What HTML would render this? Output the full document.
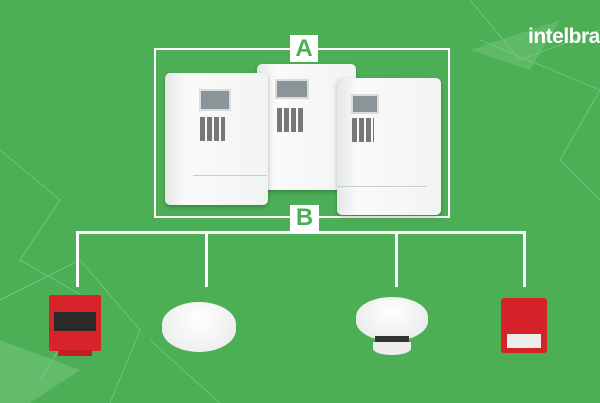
<!DOCTYPE html>
<html><head><style>
body{margin:0;width:600px;height:403px;overflow:hidden;background:#4caf55;font-family:"Liberation Sans",sans-serif;position:relative}
.a{position:absolute}
.pan{position:absolute;background:linear-gradient(90deg,#e4e6e6,#fafafa 20%,#f2f3f3);border-radius:5px;box-shadow:0 2px 4px rgba(0,0,0,.25)}
.scr{position:absolute;background:#8a9499;border:2px solid #d8dcdc}
.keys{position:absolute;background:repeating-linear-gradient(90deg,#777 0 5px,transparent 5px 7px);}
.w{position:absolute;background:#fff}
</style></head><body>
<svg class="a" style="left:0;top:0" width="600" height="403">
<g stroke="#8fd095" stroke-width="0.8" fill="none" opacity=".7">
<path d="M0 150 L60 200 L20 260 L90 300 L40 380"/><path d="M0 300 L80 260 L140 330 L110 403"/>
<path d="M470 0 L520 60 L600 30"/><path d="M480 40 L600 90 L560 160 L600 200"/><path d="M150 340 L220 403"/>
</g>
<polygon points="0,340 80,370 30,403 0,403" fill="#7cc883" opacity=".5"/>
<polygon points="470,50 560,20 530,70" fill="#7cc883" opacity=".4"/>
</svg>
<div class="a" style="left:528px;top:25px;color:#fff;font-weight:bold;font-size:21px;letter-spacing:-0.5px;white-space:nowrap">intelbras</div>
<div class="a" style="left:154px;top:48px;width:292px;height:166px;border:2px solid #fff"></div>
<div class="pan" style="left:257px;top:64px;width:99px;height:126px"><div class="scr" style="left:18px;top:15px;width:30px;height:16px"></div><div class="keys" style="left:20px;top:44px;width:26px;height:24px"></div></div>
<div class="pan" style="left:165px;top:73px;width:103px;height:132px"><div class="scr" style="left:34px;top:16px;width:28px;height:18px"></div><div class="keys" style="left:35px;top:44px;width:25px;height:24px"></div><div class="a" style="left:28px;top:102px;width:74px;height:1px;background:#ccc"></div></div>
<div class="pan" style="left:337px;top:78px;width:104px;height:137px"><div class="scr" style="left:14px;top:16px;width:24px;height:16px"></div><div class="keys" style="left:15px;top:40px;width:22px;height:24px"></div><div class="a" style="left:0;top:108px;width:90px;height:1px;background:#ccc"></div></div>
<div class="w" style="left:290px;top:35px;width:28px;height:27px;color:#4caf55;font-weight:bold;font-size:24px;text-align:center;line-height:28px">A</div>
<div class="w" style="left:290px;top:205px;width:29px;height:26px;color:#4caf55;font-weight:bold;font-size:24px;text-align:center;line-height:26px">B</div>
<div class="w" style="left:76px;top:231px;width:449px;height:3px"></div>
<div class="w" style="left:76px;top:231px;width:3px;height:56px"></div>
<div class="w" style="left:205px;top:231px;width:3px;height:56px"></div>
<div class="w" style="left:395px;top:231px;width:3px;height:56px"></div>
<div class="w" style="left:523px;top:231px;width:3px;height:56px"></div>
<div class="a" style="left:49px;top:295px;width:52px;height:56px;background:#d8232a;border-radius:2px"><div class="a" style="left:5px;top:17px;width:42px;height:19px;background:#2a2a2a"></div></div>
<div class="a" style="left:58px;top:350px;width:34px;height:6px;background:#c01f25"></div>
<div class="a" style="left:162px;top:302px;width:74px;height:50px;background:radial-gradient(ellipse at 50% 35%,#fff,#e6e8e8);border-radius:50%/45%"></div>
<div class="a" style="left:356px;top:297px;width:72px;height:44px;background:radial-gradient(ellipse at 50% 35%,#fff,#e4e6e6);border-radius:50%/45%"></div>
<div class="a" style="left:375px;top:336px;width:34px;height:6px;background:#333"></div>
<div class="a" style="left:373px;top:342px;width:38px;height:13px;background:#eee;border-radius:0 0 50% 50%"></div>
<div class="a" style="left:501px;top:298px;width:46px;height:55px;background:#d52228;border-radius:3px"><div class="a" style="left:6px;top:36px;width:34px;height:14px;background:#ededed"></div></div>
</body></html>
